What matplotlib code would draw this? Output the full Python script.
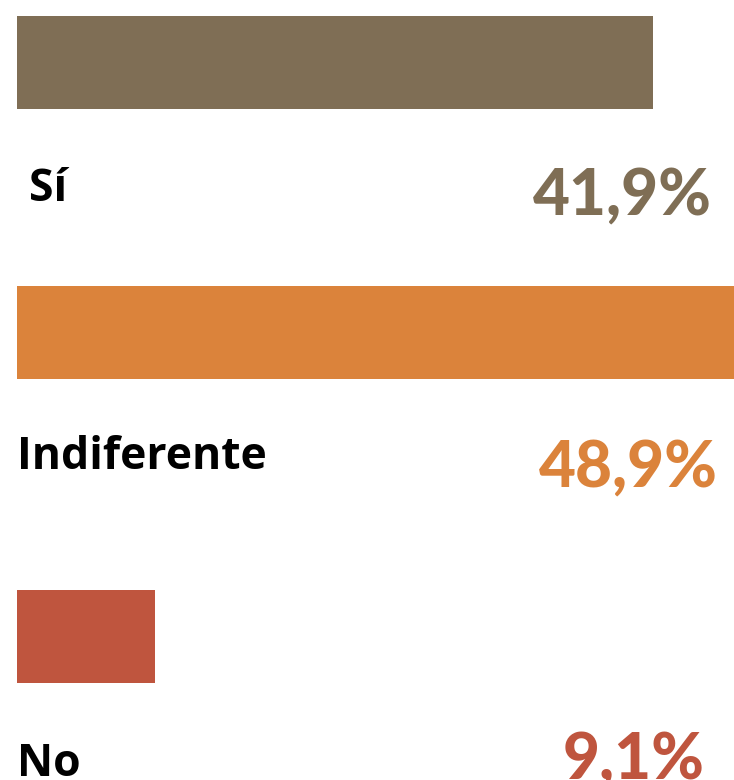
import matplotlib
matplotlib.use("Agg")
import matplotlib.pyplot as plt

categories = ["Sí", "Indiferente", "No"]
values = [41.9, 48.9, 9.1]
value_labels = ["41,9%", "48,9%", "9,1%"]
colors = ["#7F6E55", "#DB833B", "#BF553E"]

W, H = 734, 780
XMAX = 47.2  # the longest bar runs past the right edge in the original
fig = plt.figure(figsize=(W / 100, H / 100), dpi=100)
ax = fig.add_axes([17 / W, 0, 1 - 17 / W, 1])
ax.set_xlim(0, XMAX)
ax.set_ylim(H, 0)
ax.axis("off")

# bar centres / text baselines in pixel rows
bar_y = [62.5, 332.5, 636.5]
label_y = [201, 469, 776]
label_x = [12, 0, 0]
pct_y = [215, 487, 779]
pct_right = [712, 718, 705]

ax.barh(bar_y, values, height=93, color=colors, align="center")

px = XMAX / (W - 17)  # data units per pixel
fam_lab = ["Open Sans", "DejaVu Sans"]
fam_pct = ["Lato", "DejaVu Sans"]
for i, cat in enumerate(categories):
    ax.text(label_x[i] * px, label_y[i], cat,
            fontsize=32, fontweight="bold", family=fam_lab,
            ha="left", va="baseline", color="black")
    ax.text((pct_right[i] - 17) * px, pct_y[i], value_labels[i],
            fontsize=46, fontweight="black", family=fam_pct,
            ha="right", va="baseline", color=colors[i])

fig.savefig("out.png", dpi=100)
